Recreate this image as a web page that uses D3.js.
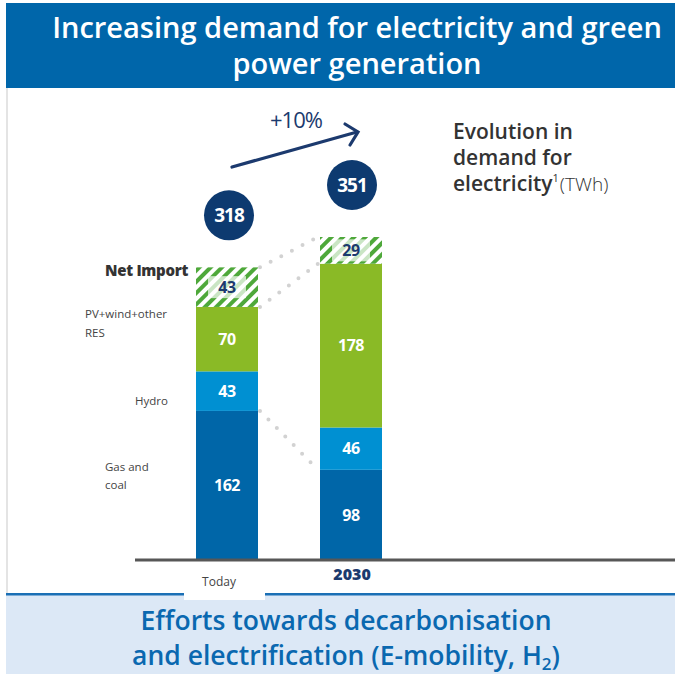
<!DOCTYPE html>
<html><head><meta charset="utf-8">
<script src="https://cdn.jsdelivr.net/npm/d3@7"></script>
<style>html,body{margin:0;padding:0;background:#fff;}svg{display:block;font-family:"Open Sans","Noto Sans",sans-serif;}</style>
</head><body>
<svg id="c" width="675" height="675"></svg>
<script>
const categories = ["Today", "2030"];
const series = ["Gas and coal", "Hydro", "PV+wind+other RES", "Net Import"];
const gasCoal = [162, 98];
const hydro = [43, 46];
const res = [70, 178];
const netImport = [43, 29];
const totals = [318, 351];
const growthLabel = "+10%";
const colors = ["#0066a8", "#0090d2", "#8aba26", "#4ea83a"];

const svg = d3.select("#c");
const defs = svg.append("defs");
const pat = defs.append("pattern").attr("id","stripes").attr("patternUnits","userSpaceOnUse")
  .attr("width",8).attr("height",8).attr("patternTransform","rotate(45)");
pat.append("rect").attr("width",8).attr("height",8).attr("fill","#fff");
pat.append("rect").attr("width",4).attr("height",8).attr("fill",colors[3]);

// frame
svg.append("rect").attr("x",6).attr("y",88).attr("width",2).attr("height",508).attr("fill","#e4e4e4");
svg.append("rect").attr("x",6).attr("y",3).attr("width",669).attr("height",85).attr("fill","#0066aa");
svg.append("text").attr("x",357).attr("y",38).attr("text-anchor","middle").attr("fill","#fff")
  .attr("font-size",29).attr("font-weight",600).text("Increasing demand for electricity and green");
svg.append("text").attr("x",357).attr("y",74).attr("text-anchor","middle").attr("fill","#fff")
  .attr("font-size",29).attr("font-weight",600).text("power generation");

// bottom band
svg.append("rect").attr("x",6).attr("y",595).attr("width",669).attr("height",79).attr("fill","#dce8f6");
svg.append("rect").attr("x",6).attr("y",593).attr("width",669).attr("height",2.5).attr("fill","#1a6fb5");
svg.append("rect").attr("x",184).attr("y",592).attr("width",81).attr("height",8).attr("fill","#fff");
svg.append("text").attr("x",346).attr("y",630).attr("text-anchor","middle").attr("fill","#0a68b0")
  .attr("font-size",26.5).attr("font-weight",600).text("Efforts towards decarbonisation");
const t2 = svg.append("text").attr("x",346).attr("y",665).attr("text-anchor","middle").attr("fill","#0a68b0")
  .attr("font-size",26.5).attr("font-weight",600);
t2.append("tspan").text("and electrification (E-mobility, H");
t2.append("tspan").attr("font-size",17).attr("dy",5).text("2");
t2.append("tspan").attr("dy",-5).text(")");

// scales
const x = d3.scaleBand().domain(categories).range([165, 413]).paddingInner(0.5).paddingOuter(0.25);
const y = d3.scaleLinear().domain([0, 351]).range([560, 237]);

const rows = categories.map((c,i)=>({cat:c, "Gas and coal":gasCoal[i], "Hydro":hydro[i], "PV+wind+other RES":res[i], "Net Import":netImport[i]}));
const stacked = d3.stack().keys(series)(rows);

// connector dots
const conn = svg.append("g").attr("stroke","#d2d2d2").attr("stroke-width",4).attr("stroke-linecap","round")
  .attr("stroke-dasharray","0,12").attr("fill","none");
const bw = x.bandwidth();
function connector(layer, endIdx){
  const x0 = x(categories[0]) + bw + 2, x1 = x(categories[1]) - 2;
  const y0 = y(stacked[layer][0][endIdx]), y1 = y(stacked[layer][1][endIdx]);
  conn.append("line").attr("x1",x0).attr("y1",y0).attr("x2",x1).attr("y2",y1);
}
connector(3,1); connector(2,1); connector(0,1);

// bars
stacked.forEach((layer,li)=>{
  svg.append("g").selectAll("rect").data(layer).join("rect")
    .attr("x",d=>x(d.data.cat)).attr("width",bw)
    .attr("y",d=>y(d[1])).attr("height",d=>y(d[0])-y(d[1]))
    .attr("fill", li===3 ? "url(#stripes)" : colors[li]);
});

// value labels
stacked.forEach((layer,li)=>{
  layer.forEach(d=>{
    const cx = x(d.data.cat)+bw/2, cy = (y(d[0])+y(d[1]))/2;
    if(li===3){
      svg.append("rect").attr("x",cx-19).attr("y",cy-11).attr("width",38).attr("height",22)
        .attr("fill","#fff").attr("opacity",0.7);
    }
    svg.append("text").attr("x",cx).attr("y",cy).attr("dy","0.35em").attr("text-anchor","middle")
      .attr("font-size",16).attr("font-weight",700).attr("letter-spacing",-0.5)
      .attr("fill", li===3 ? "#1c3a6e" : "#fff").text(d.data[series[li]]);
  });
});

// baseline
svg.append("rect").attr("x",135).attr("y",558.5).attr("width",540).attr("height",3).attr("fill","#575757");

// category labels
svg.append("text").attr("x",x("Today")+bw/2-8).attr("y",586).attr("text-anchor","middle")
  .attr("font-size",12).attr("fill","#444").text("Today");
svg.append("text").attr("x",x("2030")+bw/2+1).attr("y",580).attr("text-anchor","middle")
  .attr("font-size",16).attr("font-weight",800).attr("fill","#1c3a6e").text("2030");

// series labels (left)
svg.append("text").attr("x",188).attr("y",276).attr("text-anchor","end").attr("font-size",15)
  .attr("font-weight",800).attr("fill","#333").attr("letter-spacing",-0.3).text("Net Import");
const l2 = svg.append("text").attr("font-size",11.5).attr("fill","#444");
l2.append("tspan").attr("x",85).attr("y",318).text("PV+wind+other");
l2.append("tspan").attr("x",85).attr("y",337).text("RES");
svg.append("text").attr("x",135).attr("y",405).attr("font-size",11.5).attr("fill","#444").text("Hydro");
const l4 = svg.append("text").attr("font-size",11.5).attr("fill","#444");
l4.append("tspan").attr("x",105).attr("y",471).text("Gas and");
l4.append("tspan").attr("x",105).attr("y",489).text("coal");

// totals circles
totals.forEach((t,i)=>{
  const cx = x(categories[i])+bw/2 + (i===0?2:1);
  const cy = y(t) - 52;
  svg.append("circle").attr("cx",cx).attr("cy",cy).attr("r",25).attr("fill","#0d3a70");
  svg.append("text").attr("x",cx).attr("y",cy).attr("dy","0.35em").attr("text-anchor","middle")
    .attr("font-size",19).attr("font-weight",700).attr("fill","#fff").attr("letter-spacing",-1).text(t);
});

// growth arrow
const ag = svg.append("g").attr("stroke","#1c3a6e").attr("stroke-width",3.2).attr("fill","none").attr("stroke-linecap","round");
ag.append("line").attr("x1",232).attr("y1",167).attr("x2",357).attr("y2",132);
ag.append("polyline").attr("points","345,124 358,132 350,145");
svg.append("text").attr("x",296).attr("y",128).attr("text-anchor","middle").attr("font-size",22)
  .attr("font-weight",500).attr("fill","#1c3a6e").attr("letter-spacing",-1).text(growthLabel);

// right title
const rt = svg.append("g").attr("fill","#333").attr("font-size",21).attr("font-weight",600);
rt.append("text").attr("x",453).attr("y",139).text("Evolution in");
rt.append("text").attr("x",453).attr("y",165).text("demand for");
const rt3 = rt.append("text").attr("x",453).attr("y",191);
rt3.append("tspan").text("electricity");
rt3.append("tspan").attr("font-size",11).attr("font-weight",400).attr("dy",-9).text("1");
rt3.append("tspan").attr("font-size",19).attr("font-weight",300).attr("dy",9).attr("dx",1).text("(TWh)");
</script>
</body></html>
